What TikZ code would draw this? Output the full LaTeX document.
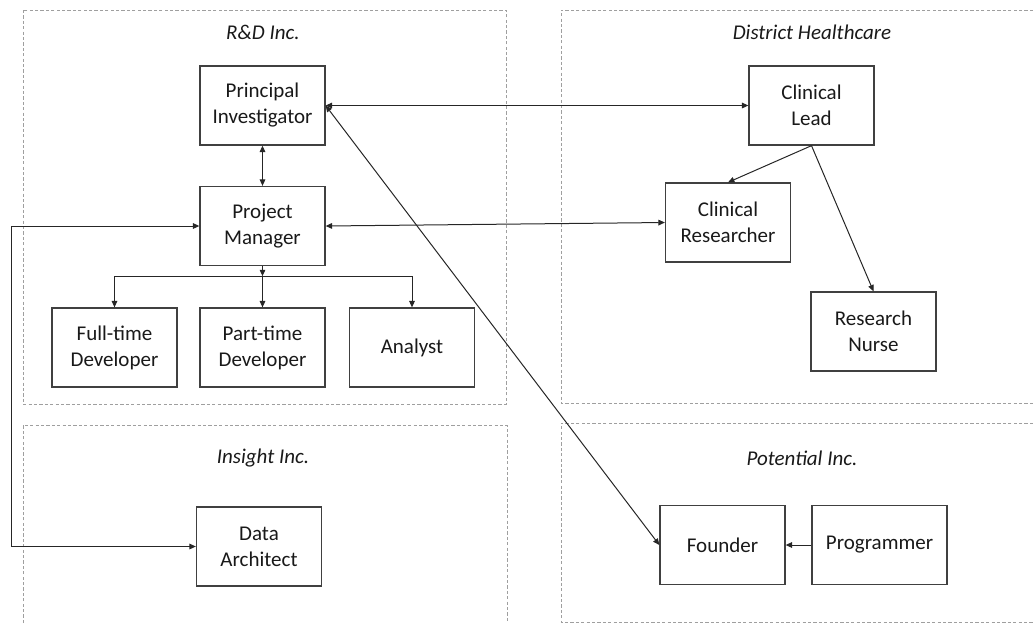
\documentclass[tikz,border=0pt]{standalone}
\usepackage{fontspec}
\setmainfont{Carlito}
\usetikzlibrary{arrows.meta,positioning}

\begin{document}
\begin{tikzpicture}[x=0.5pt,y=-0.5pt,
  >={Triangle[length=3.2pt,width=2.8pt]},
  role/.style={draw=black!75,line width=0.65pt,align=center,
    minimum width=62.5pt,minimum height=39.5pt,inner sep=1pt,
    font=\fontsize{10.5}{13}\selectfont,text=black!90},
  org/.style={draw=gray!75,line width=0.4pt,dash pattern=on 1.6pt off 1.1pt},
  orgname/.style={font=\fontsize{10.5}{13}\selectfont\itshape,text=black!90},
  link/.style={->,line width=0.5pt,draw=black!85},
  both/.style={link,<->}]
  \useasboundingbox (0,0) rectangle (1033,623);

  % organisations
  \draw[org] (23,10) rectangle (506,404);
  \draw[org] (1033,10) -- (561,10) -- (561,403) -- (1033,403);
  \draw[org] (23,623) -- (23,425) -- (507,425) -- (507,623);
  \draw[org] (1033,423) -- (561,423) -- (561,622) -- (1033,622);
  \node[orgname] (rdname) at (263,32) {R\&D Inc.};
  \node[orgname] (dhname) at (812,32) {District Healthcare};
  \node[orgname] (inname) at (263,458) {Insight Inc.};
  \node[orgname] (poname) at (802,458) {Potential Inc.};

  % R&D Inc.
  \node[role] (PI) at (262.5,105.5) {Principal\\Investigator};
  \node[role] (PM) at (262.5,226) {Project\\Manager};
  \node[role] (FT) at (114.5,347.5) {Full-time\\Developer};
  \node[role] (PT) at (262.5,347.5) {Part-time\\Developer};
  \node[role] (AN) at (412,347.5) {Analyst};

  % District Healthcare
  \node[role] (CL) at (811.5,105.5) {Clinical\\Lead};
  \node[role] (CR) at (728,222.5) {Clinical\\Researcher};
  \node[role] (RN) at (873.5,331.5) {Research\\Nurse};

  % Insight Inc. and Potential Inc.
  \node[role] (DA) at (259,546.5) {Data\\Architect};
  \node[role] (FO) at (722.5,545) {Founder};
  \node[role,minimum width=67.5pt] (PR) at (879.5,545) {Programmer};

  % links
  \draw[both] (PI) -- (PM);
  \draw[both] (PI.east) -- (CL.west);
  \draw[both] (PM.east) -- (CR.west);
  \draw[both] (PI.east) -- (FO.west);
  \draw[link] (PM.south) -- ++(0,10) coordinate (split);
  \foreach \n in {FT,PT,AN} {
    \draw[link] (split) -| (\n.north);
  }
  \coordinate (bend) at (11,226);
  \draw[both] (PM.west) -- (bend) |- (DA.west);
  \draw[link] (CL.south) -- (CR.north);
  \draw[link] (CL.south) -- (RN.north);
  \draw[link] (PR) -- (FO);
\end{tikzpicture}
\end{document}
